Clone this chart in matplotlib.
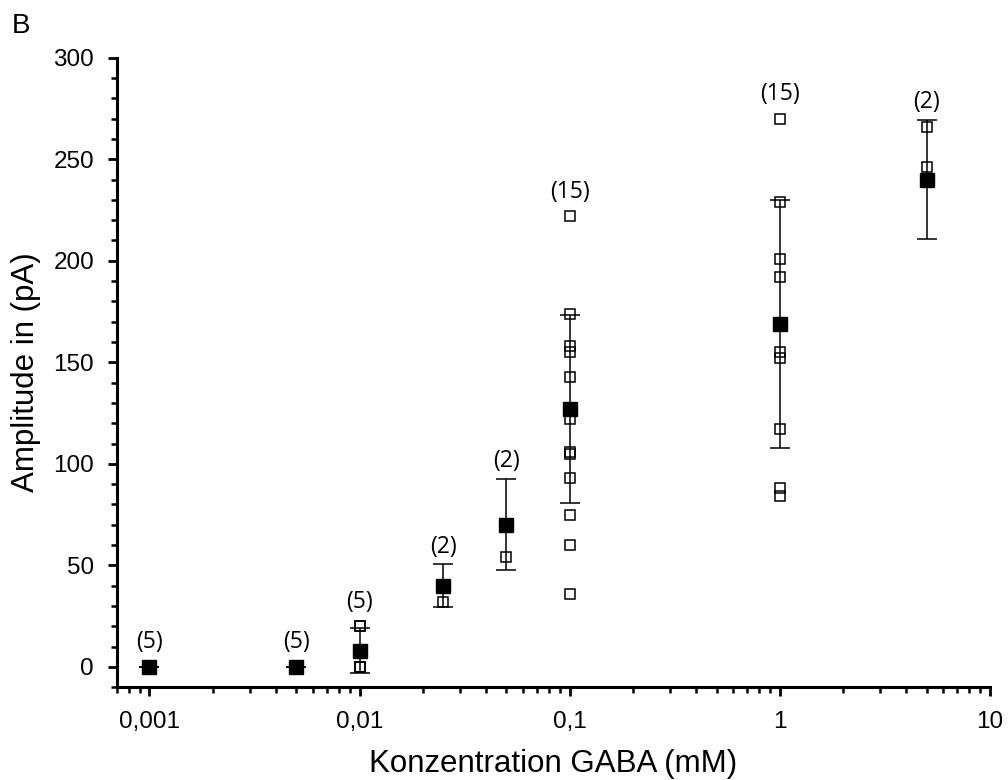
import numpy as np
import matplotlib
matplotlib.use("Agg")
import matplotlib.pyplot as plt
from matplotlib.ticker import FixedLocator, LogLocator, MultipleLocator, NullFormatter

# GABA concentrations (mM) and mean amplitudes (pA) with error
conc = [0.001, 0.005, 0.01, 0.025, 0.05, 0.1, 1, 5]
mean_amp = [0, 0, 8, 40, 70, 127, 169, 240]
err_amp = [0, 0, 11, 10.5, 22.5, 46.5, 61, 29.5]
n_cells = [5, 5, 5, 2, 2, 15, 15, 2]

# single-cell amplitudes per concentration
cells = {
    0.001: [0, 0, 0, 0, 0],
    0.005: [0, 0, 0, 0, 0],
    0.01: [20, 20, 0, 0, 0],
    0.025: [32],
    0.05: [54],
    0.1: [222, 174, 158, 155, 143, 122, 106, 105, 93, 75, 60, 36],
    1: [270, 229, 201, 192, 155, 152, 117, 88, 84],
    5: [266, 246],
}

xtick_pos = [0.001, 0.01, 0.1, 1, 10]
xtick_lab = ["0,001", "0,01", "0,1", "1", "10"]

plt.rcParams["font.family"] = ["Liberation Sans", "DejaVu Sans"]

fig = plt.figure(figsize=(10.08, 7.8), dpi=100)
ax = fig.add_axes([0.116, 0.119, 0.866, 0.807])

ax.set_xscale("log")
ax.set_xlim(0.0007, 10)
ax.set_ylim(-10, 300)

# error bars first so the markers sit on top
ax.errorbar(conc, mean_amp, yerr=err_amp, fmt="none", ecolor="black",
            elinewidth=1.1, capsize=7, capthick=1.1, zorder=2)

for c, vals in cells.items():
    ax.plot([c] * len(vals), vals, linestyle="none", marker="s", markersize=7.8,
            markerfacecolor="none", markeredgecolor="black",
            markeredgewidth=1.1, zorder=3)

ax.plot(conc, mean_amp, linestyle="none", marker="s", markersize=10.5,
        color="black", zorder=4)

# cell counts above each group
for c, m, e, n in zip(conc, mean_amp, err_amp, n_cells):
    top_pt = max(cells[c])
    if top_pt >= m + e:
        top, off = top_pt, 9
    else:
        top, off = m + e, 4
    ax.annotate(f"({n})", (c, top), xytext=(0, off), textcoords="offset points",
                ha="center", va="bottom", fontsize=16.5,
                family=["Open Sans", "DejaVu Sans"])

for side in ["top", "right"]:
    ax.spines[side].set_visible(False)
for side in ["left", "bottom"]:
    ax.spines[side].set_linewidth(2.2)

ax.xaxis.set_major_locator(FixedLocator(xtick_pos))
ax.set_xticklabels(xtick_lab)
ax.xaxis.set_minor_locator(LogLocator(base=10, subs=np.arange(2, 10)))
ax.xaxis.set_minor_formatter(NullFormatter())
ax.yaxis.set_major_locator(MultipleLocator(50))
ax.yaxis.set_minor_locator(MultipleLocator(10))

ax.tick_params(which="major", length=6.5, width=2, labelsize=17.5)
ax.tick_params(axis="y", which="major", pad=10)
ax.tick_params(axis="x", which="major", pad=11)
ax.tick_params(which="minor", length=4, width=1.8)

ax.set_xlabel("Konzentration GABA (mM)", fontsize=22.5, labelpad=11)
ax.set_ylabel("Amplitude in (pA)", fontsize=22.5, labelpad=9)

fig.text(0.012, 0.983, "B", fontsize=20, ha="left", va="top")

fig.savefig("out.png", dpi=100)
